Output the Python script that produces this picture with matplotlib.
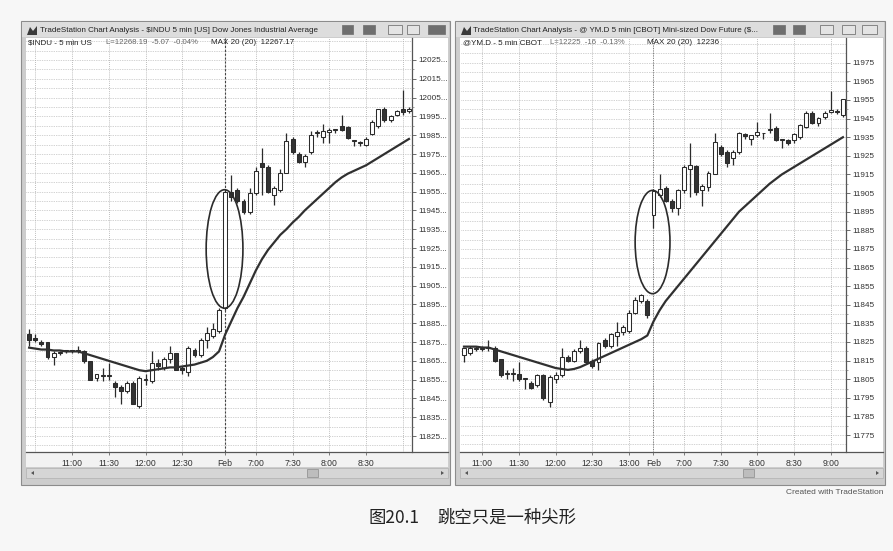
import numpy as np
import matplotlib
matplotlib.use("Agg")
import matplotlib.pyplot as plt
from matplotlib.patches import Rectangle, Ellipse, Polygon

W, H = 893, 551

# -------------------------------------------------------
# $INDU 5 min
# -------------------------------------------------------
indu_times = ["10:25", "10:30", "10:35", "10:40", "10:45", "10:50", "10:55", "11:00",
              "11:05", "11:10", "11:15", "11:20", "11:25", "11:30", "11:35", "11:40",
              "11:45", "11:50", "11:55", "12:00", "12:05", "12:10", "12:15", "12:20",
              "12:25", "12:30", "12:35", "12:40", "12:45", "12:50", "12:55", "13:00",
              "6:35", "6:40", "6:45", "6:50", "6:55", "7:00", "7:05", "7:10",
              "7:15", "7:20", "7:25", "7:30", "7:35", "7:40", "7:45", "7:50",
              "7:55", "8:00", "8:05", "8:10", "8:15", "8:20", "8:25", "8:30",
              "8:35", "8:40", "8:45", "8:50", "8:55", "9:00", "9:05"]
indu_open = [11879, 11877, 11875, 11875, 11867, 11869, 11870, 11870, 11870, 11870, 11865,
             11856, 11857, 11857, 11853, 11851, 11849, 11853, 11841, 11855, 11854, 11864,
             11861, 11866, 11869, 11861, 11859, 11871, 11868, 11876, 11878, 11881,
             11893, 11955, 11956, 11950, 11944, 11954, 11970, 11968, 11953, 11956, 11965,
             11983, 11975, 11971, 11976, 11986, 11984, 11986.5, 11988, 11990, 11989.5,
             11982, 11981, 11980, 11985.5, 11990, 11999, 11993, 11996, 11999, 11998]
indu_high = [11882, 11879, 11876, 11875, 11870, 11870, 11871, 11871, 11873, 11871, 11865,
             11858, 11861, 11864, 11854, 11852, 11854, 11854, 11857, 11858, 11870, 11866,
             11867, 11873, 11869, 11862, 11873, 11872, 11877, 11883, 11885, 11893,
             11956, 11964, 11957, 11951, 11957, 11968, 11978, 11969, 11958, 11967, 11986,
             11984, 11976, 11975, 11987, 11988, 11991, 11989, 11988.5, 11996, 11990,
             11982.5, 11982, 11984, 11993, 11999, 12000, 11996, 11998.5, 12009, 12000]
indu_low = [11873, 11875, 11873, 11866, 11863, 11868, 11869, 11869, 11869, 11864, 11855,
            11854, 11854, 11855, 11846, 11842, 11848, 11842, 11840, 11852, 11853, 11860,
            11860, 11864, 11860, 11858, 11857, 11867, 11867, 11872, 11877, 11880,
            11892, 11950, 11949, 11943, 11943, 11953, 11953, 11954, 11948, 11955, 11965,
            11975, 11970, 11968, 11975, 11984, 11981, 11981, 11986, 11987, 11983,
            11979, 11979, 11979, 11985, 11989, 11992, 11992, 11995, 11996, 11997]
indu_close = [11876, 11876, 11874, 11867, 11869, 11869.5, 11870, 11870.5, 11870, 11865, 11855,
              11858, 11857, 11857, 11851, 11849, 11853, 11842, 11856, 11855, 11864, 11862,
              11866, 11869, 11860, 11860, 11872, 11868, 11876, 11880, 11882, 11892,
              11955, 11952, 11950, 11944, 11954, 11966, 11968, 11955, 11957, 11965, 11982,
              11976, 11971, 11974, 11985, 11986, 11987, 11988, 11988, 11988, 11983.5,
              11982, 11981, 11983, 11992, 11999, 11993, 11995, 11998, 11997.5, 11999]
indu_ma20 = [11872, 11871.5, 11871, 11871, 11870.5, 11870.5, 11870, 11870, 11870, 11869,
             11868, 11867, 11866, 11865, 11864, 11863, 11862, 11861, 11860, 11859.5,
             11860, 11860.5, 11861, 11861.5, 11861.5, 11862, 11862.5, 11863, 11864, 11865,
             11867, 11870, 11879, 11886, 11893, 11899, 11906, 11913, 11919, 11924,
             11928, 11932, 11935, 11938.5, 11941.5, 11945, 11948, 11951, 11954, 11957,
             11960, 11962.5, 11964.5, 11966, 11967.5, 11969, 11971, 11973, 11975, 11977,
             11979, 11981, 11983]
indu_ticks = [("11:00", "11:00"), ("11:30", "11:30"), ("12:00", "12:00"), ("12:30", "12:30"),
              ("6:35", "Feb"), ("7:00", "7:00"), ("7:30", "7:30"), ("8:00", "8:00"),
              ("8:30", "8:30")]
indu_extra_grid = ["10:30", "9:00"]
indu_prices = [11825, 11835, 11845, 11855, 11865, 11875, 11885, 11895, 11905, 11915, 11925,
               11935, 11945, 11955, 11965, 11975, 11985, 11995, 12005, 12015, 12025]

# -------------------------------------------------------
# @YM.D 5 min
# -------------------------------------------------------
ym_times = ["10:45", "10:50", "10:55", "11:00", "11:05", "11:10", "11:15", "11:20",
            "11:25", "11:30", "11:35", "11:40", "11:45", "11:50", "11:55", "12:00",
            "12:05", "12:10", "12:15", "12:20", "12:25", "12:30", "12:35", "12:40",
            "12:45", "12:50", "12:55", "13:00", "13:05", "13:10", "13:15",
            "6:35", "6:40", "6:45", "6:50", "6:55", "7:00", "7:05", "7:10",
            "7:15", "7:20", "7:25", "7:30", "7:35", "7:40", "7:45", "7:50",
            "7:55", "8:00", "8:05", "8:10", "8:15", "8:20", "8:25", "8:30",
            "8:35", "8:40", "8:45", "8:50", "8:55", "9:00", "9:05", "9:10"]
ym_open = [11818, 11819, 11821, 11821, 11822, 11822, 11816, 11808, 11808, 11808, 11805,
           11803, 11802, 11807, 11793, 11805, 11807, 11817, 11815, 11820, 11822, 11815,
           11814, 11826, 11823, 11828, 11830.5, 11831, 11840.5, 11847, 11847,
           11893, 11904, 11907.5, 11901, 11897, 11906.5, 11918, 11919.5, 11906.5, 11908,
           11915.5, 11930, 11927, 11924, 11927, 11936.5, 11934, 11936, 11937, 11939,
           11940, 11933.5, 11933.5, 11933.5, 11935, 11940.5, 11948, 11942.5, 11946,
           11948.5, 11949, 11947]
ym_high = [11822, 11823, 11823, 11823, 11826, 11823, 11816, 11810, 11811, 11814, 11805.5,
           11804, 11808, 11808, 11807, 11809, 11822, 11818, 11821, 11826, 11823, 11816,
           11825, 11827, 11830, 11836, 11834, 11842, 11849, 11851, 11848,
           11907, 11915, 11909, 11902, 11907, 11920, 11932, 11920, 11910, 11917,
           11937.5, 11931, 11928, 11928, 11938, 11937, 11936, 11943, 11937.5, 11948,
           11941, 11934, 11934, 11937, 11942, 11949, 11949, 11946, 11949,
           11960, 11950, 11955.5]
ym_low = [11814, 11818, 11820, 11820, 11820, 11814, 11806, 11805, 11804, 11804, 11800,
          11800, 11801, 11794, 11790, 11803, 11806, 11814, 11814, 11819, 11813, 11811,
          11810, 11822, 11822, 11823, 11829, 11830, 11840, 11846, 11838,
          11886, 11903, 11900, 11895, 11893, 11905, 11903, 11904, 11898, 11906,
          11915, 11925, 11919, 11920, 11926, 11934, 11931, 11935, 11934, 11937,
          11933, 11929, 11931, 11932, 11934, 11940, 11942, 11941, 11945,
          11948, 11947.5, 11946]
ym_close = [11822, 11822, 11822, 11821.5, 11822, 11815, 11807, 11808, 11808, 11805, 11805,
            11800.5, 11807, 11795, 11806, 11807, 11817, 11815, 11820, 11822, 11814, 11812,
            11824.5, 11823, 11829.5, 11830.5, 11833, 11840.5, 11847.5, 11850, 11839.5,
            11906, 11907, 11901, 11897, 11906.5, 11919, 11920, 11905.5, 11909, 11916,
            11932.5, 11926, 11921, 11927, 11937, 11935.5, 11936, 11938, 11937, 11939.5,
            11933.5, 11933.5, 11932, 11936.5, 11941.5, 11948, 11942.5, 11945.5, 11948,
            11949.5, 11948.5, 11955.5]
ym_ma20 = [11822.5, 11822.5, 11822.5, 11822, 11822, 11821, 11820, 11819, 11818, 11817,
           11816, 11815, 11814, 11813, 11812, 11811, 11810.5, 11810, 11810.5, 11811.5,
           11813, 11814.5, 11816, 11817.5, 11819, 11820.5, 11822, 11823.5, 11825, 11826.5,
           11828.5, 11836, 11842, 11847, 11851, 11855, 11859, 11863, 11867, 11871,
           11875, 11879, 11883, 11887, 11891, 11895, 11898, 11901, 11904, 11907,
           11910, 11912.5, 11915, 11917, 11919, 11921, 11923, 11925, 11927, 11929,
           11931, 11933, 11935]
ym_ticks = [("11:00", "11:00"), ("11:30", "11:30"), ("12:00", "12:00"), ("12:30", "12:30"),
            ("13:00", "13:00"), ("6:35", "Feb"), ("7:00", "7:00"), ("7:30", "7:30"),
            ("8:00", "8:00"), ("8:30", "8:30"), ("9:00", "9:00")]
ym_extra_grid = []
ym_prices = [11775, 11785, 11795, 11805, 11815, 11825, 11835, 11845, 11855, 11865, 11875,
             11885, 11895, 11905, 11915, 11925, 11935, 11945, 11955, 11965, 11975]

INK = "#2b2b2b"
GRID = "#a8a8a8"
FONT = "Liberation Sans"


def px(x0, y0, x1, y1):
    return [x0 / W, 1 - y1 / H, (x1 - x0) / W, (y1 - y0) / H]


def ftext(x, y, s, **kw):
    kw.setdefault("family", FONT)
    kw.setdefault("va", "center")
    fig.text(x / W, 1 - y / H, s, **kw)


def window(bg, x0, x1, plot_right, thumb_x):
    # cornice finestra stile TradeStation
    bg.add_patch(Rectangle((x0, 21), x1 - x0, 464, fc="#cdcdcd", ec="#8c8c8c", lw=0.8))
    bg.add_patch(Rectangle((x0 + 1, 22), x1 - x0 - 2, 15, fc="#dddddd", ec="none"))
    bg.add_patch(Rectangle((x0 + 5, 38), x1 - x0 - 7, 414, fc="white", ec="none"))
    bg.add_patch(Rectangle((x0 + 5, 452), x1 - x0 - 7, 15, fc="#f2f2f2", ec="none"))
    bg.add_patch(Rectangle((x0 + 5, 468), x1 - x0 - 7, 10, fc="#d6d6d6", ec="#b0b0b0", lw=0.5))
    bg.add_patch(Rectangle((thumb_x, 469), 11, 8, fc="#bdbdbd", ec="#8a8a8a", lw=0.5))
    bg.add_patch(Polygon([(x0 + 10, 473), (x0 + 13, 471), (x0 + 13, 475)], fc="#555", ec="none"))
    bg.add_patch(Polygon([(x1 - 6, 473), (x1 - 9, 471), (x1 - 9, 475)], fc="#555", ec="none"))
    bg.plot([x0 + 5, x1 - 2], [452, 452], color="#555", lw=0.9)
    bg.plot([plot_right, plot_right], [38, 452], color="#555", lw=0.9)
    # icona della barra del titolo
    bg.add_patch(Polygon([(x0 + 6, 35), (x0 + 9, 27), (x0 + 12, 31), (x0 + 16, 26),
                          (x0 + 16, 35)], fc="#3a3a3a", ec="none"))


def buttons(bg, specs):
    for bx, bw, dark in specs:
        bg.add_patch(Rectangle((bx, 25), bw, 9, fc="#6e6e6e" if dark else "#e4e4e4",
                               ec="#777", lw=0.6))


def candles(ax, o, h, l, c, ma):
    o, h, l, c = map(np.asarray, (o, h, l, c))
    x = np.arange(len(o))
    up = c >= o
    ax.vlines(x, l, h, color=INK, lw=0.9, zorder=3)
    lo = np.minimum(o, c)
    ht = np.maximum(np.abs(c - o), 0.5)
    ax.bar(x, ht, bottom=lo, width=0.64, color=np.where(up, "white", "#333333"),
           edgecolor=INK, lw=0.75, zorder=4)
    ax.plot(x, ma, color="#303030", lw=1.6, zorder=5)


def setup(ax, times, ticks, extra, prices, ylim, xlim, fmt):
    pos = [times.index(t) for t, _ in ticks]
    ax.set_xlim(*xlim)
    ax.set_ylim(*ylim)
    ax.set_facecolor("none")
    for s in ("top", "left", "right", "bottom"):
        ax.spines[s].set_visible(False)
    ax.set_xticks(pos)
    ax.set_xticklabels([lab for _, lab in ticks], family=FONT, fontsize=6.2, color="#333")
    ax.tick_params(axis="x", length=2, pad=3, color="#666", width=0.6)
    ax.yaxis.tick_right()
    ax.set_yticks(prices)
    ax.set_yticklabels([fmt(p) for p in prices], family=FONT, fontsize=5.9, color="#333")
    ax.set_yticks([p + 5 for p in prices[:-1]], minor=True)
    ax.tick_params(axis="y", which="major", length=3, pad=1.5, color="#555", width=0.6)
    ax.tick_params(axis="y", which="minor", length=1.5, color="#777", width=0.5)
    gy = np.arange(prices[0] - 10, prices[-1] + 15, 5)
    ax.hlines(gy, xlim[0], xlim[1], colors=GRID, lw=0.5, linestyles=(0, (1, 1.5)), zorder=1)
    gx = pos + [times.index(t) for t in extra]
    ax.vlines(gx, ylim[0], ylim[1], colors=GRID, lw=0.6, linestyles=(0, (1, 1.5)), zorder=1)


fig = plt.figure(figsize=(W / 100, H / 100), dpi=100, facecolor="#f7f7f7")
bg = fig.add_axes([0, 0, 1, 1], zorder=0)
bg.set_xlim(0, W)
bg.set_ylim(H, 0)
bg.axis("off")

window(bg, 21, 450, 412, 307)
window(bg, 455, 885, 846, 743)
buttons(bg, [(342, 11, True), (363, 12, True), (388, 14, False), (407, 12, False), (428, 17, True)])
buttons(bg, [(773, 12, True), (793, 12, True), (820, 13, False), (842, 13, False), (862, 15, False)])

# pannello sinistro: $INDU
ax1 = fig.add_axes(px(26, 38, 412, 452), zorder=1)
setup(ax1, indu_times, indu_ticks, indu_extra_grid, indu_prices,
      (11816.5, 12036.7), (-0.51, 62.5), lambda p: f"{p}...")
candles(ax1, indu_open, indu_high, indu_low, indu_close, indu_ma20)
ax1.axvline(indu_times.index("6:35") - 0.1, color="#444", lw=0.8, ls=(0, (2, 1.5)), zorder=2)
ax1.add_patch(Ellipse((31.9, 11924.5), 6.0, 63, fill=False, ec=INK, lw=1.2, zorder=6))

# pannello destro: @YM.D
ax2 = fig.add_axes(px(461, 38, 846, 452), zorder=1)
setup(ax2, ym_times, ym_ticks, ym_extra_grid, ym_prices,
      (11765.9, 11988.3), (-0.49, 62.5), lambda p: f"{p}")
candles(ax2, ym_open, ym_high, ym_low, ym_close, ym_ma20)
ax2.axvline(ym_times.index("6:35"), color="#777", lw=0.7, ls=(0, (1, 1.5)), zorder=2)
ax2.add_patch(Ellipse((30.85, 11878.7), 5.7, 55.5, fill=False, ec=INK, lw=1.2, zorder=6))

# testi finestra
ftext(40, 30, "TradeStation Chart Analysis - \\$INDU 5 min [US] Dow Jones Industrial Average",
      fontsize=5.8, color="#222")
ftext(473, 30, "TradeStation Chart Analysis - @ YM.D 5 min [CBOT] Mini-sized Dow Future (\\$...",
      fontsize=5.8, color="#222")
ftext(28, 43, "\\$INDU - 5 min US", fontsize=5.8, color="#222")
ftext(106, 43, "L=12268.19  -5.07  -0.04%", fontsize=5.6, color="#666")
ftext(211, 43, "MAX 20 (20)  12267.17", fontsize=5.8, color="#222")
ftext(463, 43, "@YM.D - 5 min CBOT", fontsize=5.8, color="#222")
ftext(550, 43, "L=12225  -16  -0.13%", fontsize=5.6, color="#666")
ftext(647, 43, "MAX 20 (20)  12236", fontsize=5.8, color="#222")
ftext(883, 493, "Created with TradeStation", fontsize=6, color="#555", ha="right")

cjk = ["Noto Sans CJK SC", "DejaVu Sans"]
ftext(369, 518, "图20.1", fontsize=12.5, color="#222", family=cjk)
ftext(437, 518, "跳空只是一种尖形", fontsize=12.5, color="#222", family=cjk)

plt.savefig("out.png", dpi=100, facecolor=fig.get_facecolor())
